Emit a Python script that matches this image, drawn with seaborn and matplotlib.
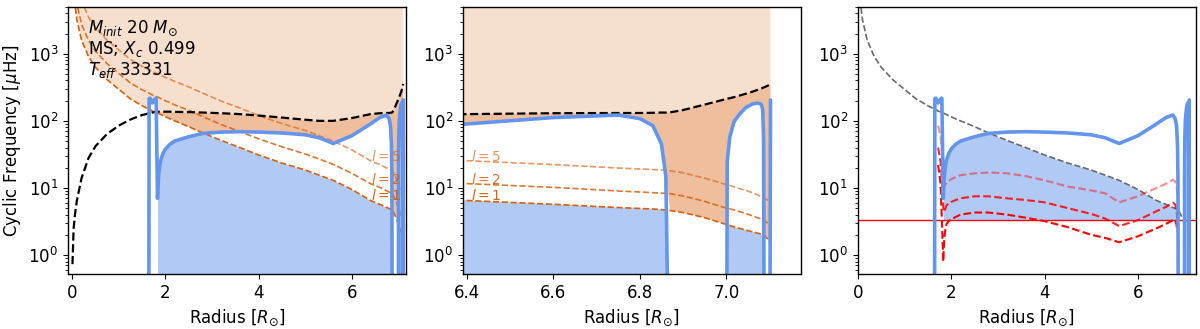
import numpy as np
import matplotlib.pyplot as plt
import seaborn as sns

sns.set_style('ticks', {'axes.edgecolor': 'black', 'xtick.color': 'black', 'ytick.color': 'black',
                        'text.color': 'black', 'axes.labelcolor': 'black'})
plt.rcParams['font.family'] = ['DejaVu Sans']
plt.rcParams['font.size'] = 12
plt.rcParams['axes.linewidth'] = 1.0

Z = 1e-3  # N^2 < 0 (convective), drawn below the axis

radius = np.array([0.005, 0.03, 0.06, 0.1, 0.2, 0.35, 0.5, 0.75, 1.0, 1.25, 1.5, 1.64,
                   1.65, 1.67,
                   1.72, 1.77, 1.8, 1.83, 1.845, 1.86, 1.88, 1.9, 1.95, 2.0,
                   2.1, 2.2, 2.5, 2.8, 3.2, 3.6, 4.0, 4.5, 5.0, 5.3,
                   5.6, 6.0, 6.4, 6.6, 6.75, 6.8, 6.83, 6.85,
                   6.86, 6.87, 6.9, 6.95, 7.0, 7.002, 7.008, 7.018, 7.03, 7.045,
                   7.06, 7.072, 7.08, 7.084, 7.086, 7.088, 7.095, 7.1, 7.102])

# Brunt-Vaisala frequency (cyclic, muHz)
brunt = np.array([Z, Z, Z, Z, Z, Z, Z, Z, Z, Z, Z, Z,
                  215, 218,
                  185, 210, 218, 7, 12, 17, 22, 26, 33, 38,
                  45, 50, 58, 65, 68, 69, 68, 66, 62, 56,
                  46, 60, 90, 112, 122, 108, 85, 45,
                  15, Z, Z, Z, Z, 25, 58, 98, 125, 158,
                  178, 185, 178, 150, 55, Z, Z, Z, 205])

# acoustic cut-off (black dashed)
cutoff = np.array([0.73, 2.5, 4.1, 6.5, 14, 28, 42, 64, 85, 105, 122, 129,
                   130, 131,
                   133, 135, 136, 137, 137, 137, 137, 137, 137, 137,
                   137, 136, 135, 133, 130, 126, 120, 112, 104, 100,
                   100, 110, 126, 130, 131, 131, 132, 133,
                   133, 134, 145, 175, 212, 214, 218, 226, 238, 254,
                   272, 290, 303, 310, 314, 318, 333, 348, 355])

# Lamb frequencies
lamb_l1 = np.array([64000, 10700, 5330, 3200, 1600, 910, 630, 410, 295, 212, 168, 150,
                    149, 147,
                    140, 136, 134, 131, 129.5, 128, 126, 124, 119.5, 115,
                    107, 100, 82, 66, 51, 40, 31, 23.5, 18.5, 15.5,
                    13, 9.5, 6.5, 5.7, 5.1, 4.95, 4.85, 4.75,
                    4.7, 4.6, 4.3, 3.6, 2.85, 2.82, 2.75, 2.63, 2.5, 2.35,
                    2.22, 2.12, 2.05, 2.0, 1.98, 1.95, 1.75, 1.55, 1.5])
lamb_l2 = np.array([110000, 18500, 9200, 5540, 2770, 1580, 1090, 710, 510, 367, 291, 260,
                    258, 254,
                    242, 236, 232, 227, 224.5, 222, 218.5, 215, 207, 199,
                    186, 173, 144, 116, 88, 69, 54, 41, 32, 27,
                    22.5, 16.5, 11.6, 10.2, 9.0, 8.7, 8.5, 8.35,
                    8.3, 8.2, 7.6, 6.3, 5.0, 4.97, 4.88, 4.7, 4.45, 4.15,
                    3.85, 3.6, 3.45, 3.38, 3.34, 3.3, 3.0, 2.7, 2.6])
lamb_l5 = np.array([250000, 41000, 20600, 12400, 6200, 3520, 2440, 1590, 1140, 820, 650, 580,
                    577, 569,
                    542, 527, 519, 507, 501, 496, 488, 480, 462, 445,
                    416, 387, 321, 259, 197, 155, 120, 91, 72, 60,
                    50, 37, 25.5, 22.3, 19.8, 19.2, 18.8, 18.5,
                    18.3, 18.0, 16.8, 14.0, 11.2, 11.1, 10.9, 10.4, 9.8, 9.2,
                    8.5, 7.9, 7.4, 7.2, 7.05, 6.95, 6.6, 6.2, 6.0])

# third panel: dashed red curves (defined from 1.72 to 6.85 Rsun)
gap_in, gap_out = [np.nan] * 14, [np.nan] * 19
red_light = np.array(gap_in + [85, 60, 38, 18, 13, 11, 11.3, 12, 12.8, 13.5,
                               14.6, 15.5, 16.5, 17, 16.5, 15, 13, 10.5, 9.2, 8.3,
                               6.1, 7.5, 10, 11.5, 13.2, 12.5, 10.5, 8] + gap_out)
red_mid = np.array(gap_in + [40, 25, 14, 5, 4.4, 4.5, 5.0, 5.5, 5.9, 6.2,
                             6.6, 7.0, 7.5, 7.5, 7.0, 6.6, 6.1, 5.0, 4.1, 3.5,
                             2.7, 3.3, 4.5, 5.2, 6.0, 5.7, 4.6, 3.2] + gap_out)
red_dark = np.array(gap_in + [22, 12, 3.5, 0.8, 1.4, 2.0, 2.5, 2.9, 3.2, 3.4,
                              3.7, 4.0, 4.3, 4.3, 4.0, 3.6, 3.2, 2.6, 2.0, 1.8,
                              1.55, 1.9, 2.5, 2.9, 3.3, 3.4, 2.8, 2.2] + gap_out)
mode_freq = 3.3

for arr in (brunt, cutoff, lamb_l1, lamb_l2, lamb_l5, red_light, red_mid, red_dark):
    assert len(arr) == len(radius)

orange = '#d95f0e'
blue = 'cornflowerblue'

fig, axes = plt.subplots(1, 3, figsize=(12, 3.29), dpi=100)
fig.subplots_adjust(left=0.0567, right=0.9964, bottom=0.167, top=0.979, wspace=0.169)

g_top = np.minimum(brunt, lamb_l1)
p_bot = np.maximum(brunt, lamb_l1)
after_spike = radius >= 1.83


def line(ax, y, x=radius, **kw):
    sns.lineplot(x=x, y=y, ax=ax, estimator=None, sort=False, **kw)


for ax in axes[:2]:
    ax.set_yscale('log')
    ax.fill_between(radius, Z, g_top, where=after_spike, color=blue, alpha=0.5, lw=0)
    ax.fill_between(radius, p_bot, 1e6, color=orange, alpha=0.2, lw=0)
    ax.fill_between(radius, p_bot, cutoff, where=cutoff > p_bot, interpolate=True,
                    color=orange, alpha=0.25, lw=0)
    line(ax, lamb_l5, color=orange, alpha=0.65, lw=1.2, linestyle='--')
    line(ax, lamb_l2, color=orange, alpha=0.85, lw=1.2, linestyle='--')
    line(ax, lamb_l1, color=orange, alpha=1.0, lw=1.2, linestyle='--')
    line(ax, cutoff, color='black', lw=1.6, linestyle='--')
    line(ax, brunt, color=blue, lw=2.6)
    for txt, yv, a in [('$l=5$', 29, 0.65), ('$l=2$', 13.3, 0.85), ('$l=1$', 7.7, 1.0)]:
        ax.text(6.41, yv, txt, color=orange, alpha=a, fontsize=10, ha='left', va='center')

axes[0].set_xlim(-0.09, 7.16)
axes[1].set_xlim(6.391, 7.172)
axes[0].text(0.06, 0.955, '$M_{init}$ 20 $M_{\\odot}$\nMS; $X_c$ 0.499\n$T_{eff}$ 33331',
             transform=axes[0].transAxes, ha='left', va='top', fontsize=12, linespacing=1.05)

ax = axes[2]
ax.set_yscale('log')
ax.fill_between(radius, mode_freq, g_top, where=after_spike & (g_top > mode_freq),
                interpolate=True, color=blue, alpha=0.5, lw=0)
inner = radius <= 6.95
line(ax, lamb_l1[inner], x=radius[inner], color='dimgray', lw=1.2, linestyle='--')
line(ax, red_light, color='red', alpha=0.45, lw=1.5, linestyle='--')
line(ax, red_mid, color='red', alpha=0.85, lw=1.5, linestyle='--')
line(ax, red_dark, color='red', alpha=1.0, lw=1.5, linestyle='--')
ax.axhline(mode_freq, color='red', lw=1.0)
line(ax, brunt, color=blue, lw=2.6)
ax.set_xlim(0, 7.24)

for ax in axes:
    ax.set_ylim(0.52, 5000)
    ax.set_xlabel('Radius [$R_{\\odot}$]', fontsize=12)
    ax.set_ylabel('')
    ax.tick_params(labelsize=12)
axes[0].set_ylabel('Cyclic Frequency [$\\mu$Hz]', fontsize=12)

fig.savefig('out.png', dpi=100)
